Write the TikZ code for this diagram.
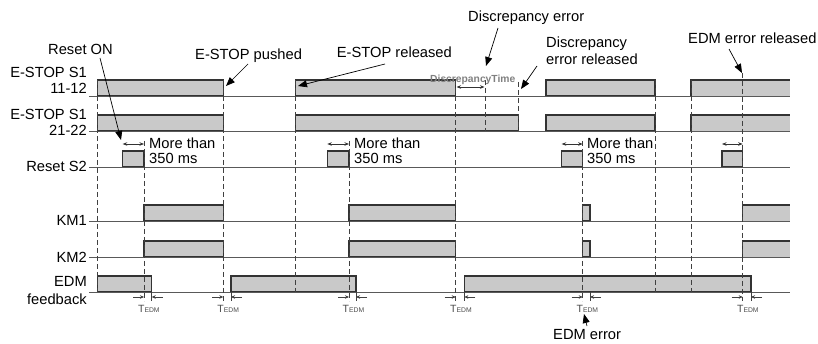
\documentclass[tikz,border=0pt]{standalone}
\usepackage{fontspec}
\setmainfont{Liberation Sans}
\usetikzlibrary{arrows.meta}
\newcommand\sigpulse[3]{\filldraw[sig] (#2,#1) -- (#2,#1-16) -- (#3,#1-16) -- (#3,#1) -- cycle;}
\newcommand\sigopen[2]{\fill[sigfill] (#2,#1) rectangle (790,#1-16); \draw[sigline] (#2,#1) -- (#2,#1-16) -- (790,#1-16);}
\begin{document}
\begin{tikzpicture}[x=1pt,y=-1pt,
  lbl/.style={font=\fontsize{14.7}{16}\selectfont, inner sep=0pt},
  sigfill/.style={fill=black!21},
  sigline/.style={draw=black!80, line width=1.2pt},
  sig/.style={sigfill, sigline},
  baseln/.style={draw=black!65, line width=0.8pt},
  dline/.style={draw=black!75, line width=1pt, dash pattern=on 5pt off 3pt},
  callout/.style={draw=black, line width=0.7pt, -{Triangle[length=9pt,width=7pt]}},
  dim/.style={draw=black!80, line width=0.7pt, {Stealth[length=4.5pt,width=3.5pt]}-{Stealth[length=4.5pt,width=3.5pt]}},
  tarr/.style={draw=black!75, line width=0.6pt, -{Stealth[length=4pt,width=3.5pt]}},
  edgeext/.style={draw=black!75, line width=0.7pt},
  tedm/.style={font=\fontsize{10.5}{11}\selectfont, text=black!70, inner sep=0pt},
  dtime/.style={font=\fontsize{10.3}{11}\selectfont\bfseries, text=black!50, inner sep=0pt}]
\useasboundingbox (0,0) rectangle (818,344);

% row labels
\node[lbl,anchor=base east] (l1a) at (87,78) {E-STOP S1};
\node[lbl,anchor=base east] (l1b) at (87,94) {11-12};
\node[lbl,anchor=base east] (l2a) at (87,120) {E-STOP S1};
\node[lbl,anchor=base east] (l2b) at (87,136) {21-22};
\node[lbl,anchor=base east] (l3) at (87,172) {Reset S2};
\node[lbl,anchor=base east] (l4) at (87,226) {KM1};
\node[lbl,anchor=base east] (l5) at (87,262) {KM2};
\node[lbl,anchor=base east] (l6a) at (87,287) {EDM};
\node[lbl,anchor=base east] (l6b) at (87,304) {feedback};

% pulses
% E-STOP 11-12
\sigpulse{96}{97.7}{223.3}
\sigpulse{96}{295.7}{455.7}
\sigpulse{96}{546}{655}
\sigopen{96}{691}
% E-STOP 21-22
\sigpulse{131}{97.7}{223.3}
\sigpulse{131}{295.7}{518.3}
\sigpulse{131}{546}{655}
\sigopen{131}{691}
% Reset S2
\sigpulse{167}{122.7}{144}
\sigpulse{167}{327.3}{349}
\sigpulse{167}{561.7}{582.7}
\sigpulse{167}{722}{742.7}
% KM1, KM2
\foreach \yy in {221,257}{
  \sigpulse{\yy}{144}{223.3}
  \sigpulse{\yy}{349}{455.7}
  \sigpulse{\yy}{582.7}{590}
  \sigopen{\yy}{742.7}
}
% EDM
\sigpulse{292}{97.7}{151.7}
\sigpulse{292}{231}{356}
\sigpulse{292}{464.3}{751}

% base lines
\foreach \yy in {96,131,167,221,257,292} \draw[baseln] (89,\yy) -- (790,\yy);

% dashed guide lines
\foreach \xx/\ya/\yb in {97.7/80/292, 144/141/301, 223.3/80/301, 295.7/80/292, 349/141/301, 455.7/80/301, 485/80/131, 518.3/82/131, 582.7/141/301, 655/80/292, 691/80/292, 742.7/73/301}
  \draw[dline] (\xx,\ya) -- (\xx,\yb);

% T_EDM markers
\foreach \a/\b [count=\i] in {144/151.7, 223.3/231, 349/356, 455.7/464.3, 582.7/590, 742.7/751}{
  \coordinate (ta\i) at (\a,297);
  \coordinate (tas\i) at (\a-11,297);
  \coordinate (tb\i) at (\b,297);
  \coordinate (tbs\i) at (\b+11,297);
  \draw[tarr] (tas\i) -- (ta\i);
  \draw[tarr] (tbs\i) -- (tb\i);
  \draw[edgeext] (\b,292) -- (\b,301);
  \node[tedm, anchor=base] (tedm\i) at ({(\a+\b)/2+1},312) {T\fontsize{6.8}{7}\selectfont EDM};
}

% "More than 350 ms" markers
\foreach \a/\b [count=\i] in {122.7/144, 327.3/349, 561.7/582.7, 722/742.7}{
  \coordinate (ma\i) at (\a,144);
  \coordinate (mb\i) at (\b,144);
  \draw[dim] (ma\i) -- (mb\i);
}
\foreach \xx [count=\i] in {149,354,587}{
  \node[lbl,anchor=base west] (mt\i) at (\xx,148.5) {More than};
  \node[lbl,anchor=base west] (ms\i) at (\xx,164) {350 ms};
}

% discrepancy time
\coordinate (dta) at (456.5,87);
\coordinate (dtb) at (484.5,87);
\draw[dim] (dta) -- (dtb);
\node[dtime,anchor=base west] (dtime) at (430,83) {DiscrepancyTime};

% annotations
\node[lbl,anchor=base west] (ron) at (48,55) {Reset ON};
\coordinate (ron1) at (100,58); \coordinate (ron2) at (121,140);
\draw[callout] (ron1) -- (ron2);

\node[lbl,anchor=base west] (push) at (195,60) {E-STOP pushed};
\coordinate (push1) at (248,64); \coordinate (push2) at (226,86);
\draw[callout] (push1) -- (push2);

\node[lbl,anchor=base west] (rel) at (336.7,58) {E-STOP released};
\coordinate (rel1) at (385,64); \coordinate (rel2) at (298,86);
\draw[callout] (rel1) -- (rel2);

\node[lbl,anchor=base west] (derr) at (468,22) {Discrepancy error};
\coordinate (derr1) at (498,28); \coordinate (derr2) at (486,66);
\draw[callout] (derr1) -- (derr2);

\node[lbl,anchor=base west] (drel1) at (546,48) {Discrepancy};
\node[lbl,anchor=base west] (drel2) at (546,65) {error released};
\coordinate (drl1) at (537,66); \coordinate (drl2) at (521,89);
\draw[callout] (drl1) -- (drl2);

\node[lbl,anchor=base west] (erel) at (688,44) {EDM error released};
\coordinate (erel1) at (729,49); \coordinate (erel2) at (742,73);
\draw[callout] (erel1) -- (erel2);

\node[lbl,anchor=base west] (eerr) at (553,339) {EDM error};
\coordinate (eerr1) at (587,326); \coordinate (eerr2) at (584,314);
\draw[callout] (eerr1) -- (eerr2);
\end{tikzpicture}
\end{document}
